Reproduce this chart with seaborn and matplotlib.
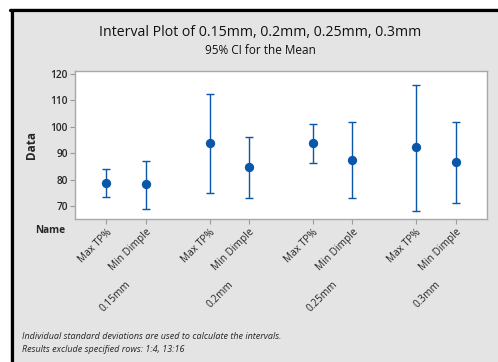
import matplotlib
matplotlib.use("Agg")
import matplotlib.pyplot as plt
import seaborn as sns
import numpy as np
import pandas as pd
from matplotlib.lines import Line2D
from matplotlib.patches import Rectangle

# ---- data ----
groups = ["0.15mm", "0.2mm", "0.25mm", "0.3mm"]
names = ["Max TP%", "Min Dimple"]
means = [78.8, 78.2, 93.9, 84.9, 93.9, 87.5, 92.2, 86.5]
lower = [73.4, 69.0, 75.0, 72.9, 86.2, 72.9, 68.1, 71.3]
upper = [84.1, 86.9, 112.3, 96.0, 101.2, 101.9, 115.8, 101.9]
yticks = [70, 80, 90, 100, 110, 120]

# positions: two items per group with a gap between groups
gap = 2.6
pos = [g * gap + i for g in range(len(groups)) for i in range(len(names))]
labels = [n for g in groups for n in names]
df = pd.DataFrame({"x": pos, "mean": means, "lo": lower, "hi": upper})

sns.set_theme(style="white")
plt.rcParams["font.family"] = ["Open Sans", "Noto Sans", "DejaVu Sans"]

W, H = 498, 362
fig = plt.figure(figsize=(W / 100, H / 100), dpi=100)
fig.patch.set_facecolor("white")

gray = "#e4e4e4"
blue = "#0a56a8"

# framed gray panel
fig.patches.append(Rectangle((10 / W, 0), 1, 1 - 8 / H, transform=fig.transFigure,
                             facecolor=gray, edgecolor="none", zorder=-2))
fig.lines.append(Line2D([11.5 / W, 11.5 / W], [0, 1 - 9.5 / H], transform=fig.transFigure,
                        color="black", lw=2.3, zorder=-1))
fig.lines.append(Line2D([10 / W, 1], [1 - 9.5 / H, 1 - 9.5 / H], transform=fig.transFigure,
                        color="black", lw=2.3, zorder=-1))

ax = fig.add_axes([75.3 / W, 1 - 219.3 / H, (486.7 - 75.3) / W, (219.3 - 71) / H])
ax.set_facecolor("white")

ax.errorbar(df["x"], df["mean"],
            yerr=[df["mean"] - df["lo"], df["hi"] - df["mean"]],
            fmt="none", ecolor=blue, elinewidth=1.0, capsize=3.0, capthick=1.0, zorder=2)
sns.scatterplot(data=df, x="x", y="mean", ax=ax, color=blue, s=45,
                edgecolor=blue, linewidth=0, zorder=3)

ax.set_xlim(-0.78, pos[-1] + 0.78)
ax.set_ylim(65, 121.1)
ax.set_yticks(yticks)
ax.set_yticklabels([str(t) for t in yticks], fontsize=7.3, fontweight="semibold")
ax.set_xticks(pos)
ax.set_xticklabels(labels, rotation=45, ha="right", rotation_mode="anchor", fontsize=7.3)
ax.tick_params(axis="both", which="both", direction="out", length=3.5, width=0.8,
               color="#9a9a9a", pad=2, bottom=True, left=True)
for s in ax.spines.values():
    s.set_color("#a8a8a8")
    s.set_linewidth(1.0)
ax.set_xlabel("")
ax.set_ylabel("Data", fontsize=8.5, fontweight="bold", labelpad=9)

# group labels
trans = matplotlib.transforms.blended_transform_factory(ax.transData, ax.transAxes)
for g, name in enumerate(groups):
    cx = g * gap + 0.5
    ax.text(cx - 0.02, -0.40, name, transform=trans, rotation=45, ha="right", va="top",
            rotation_mode="anchor", fontsize=7.3)

ax.text(-0.025, -0.077, "Name", transform=ax.transAxes, ha="right", va="center",
        fontsize=7.3, fontweight="bold")

fig.text(260 / W, 1 - 33 / H, "Interval Plot of 0.15mm, 0.2mm, 0.25mm, 0.3mm",
         ha="center", va="center", fontsize=10.2, color="#111111")
fig.text(260 / W, 1 - 51 / H, "95% CI for the Mean", ha="center", va="center",
         fontsize=8.5, color="#111111")

fig.text(22 / W, 1 - 336.7 / H,
         "Individual standard deviations are used to calculate the intervals.",
         ha="left", va="center", fontsize=6.5, style="italic")
fig.text(22 / W, 1 - 349 / H, "Results exclude specified rows: 1:4, 13:16",
         ha="left", va="center", fontsize=6.5, style="italic")

fig.savefig("out.png", dpi=100)
